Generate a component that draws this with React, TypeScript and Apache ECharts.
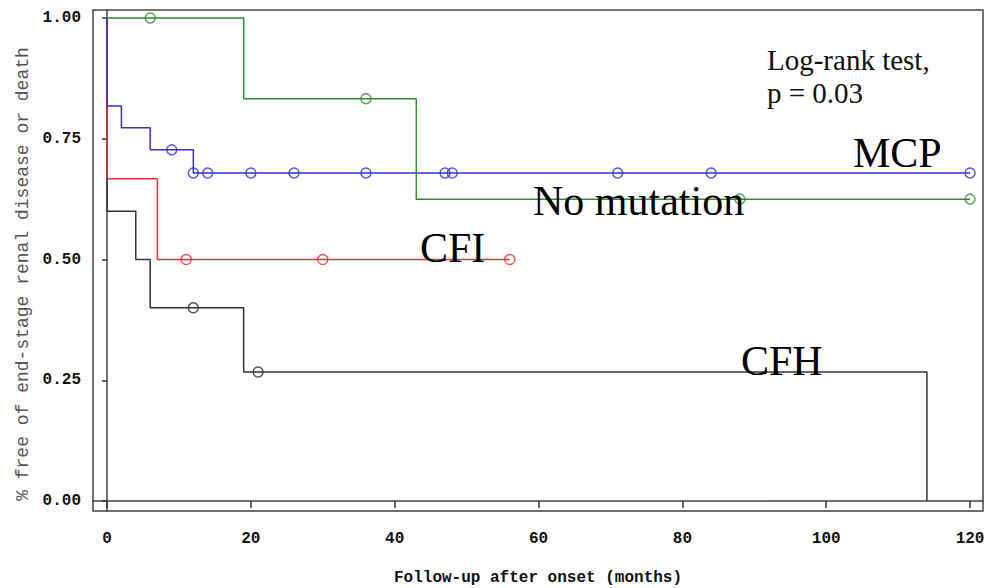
import React, { useEffect, useRef } from "react";
import * as echarts from "echarts";

const xTicks = [0, 20, 40, 60, 80, 100, 120];
const yTicks = [0, 0.25, 0.5, 0.75, 1];

// Kaplan-Meier steps (time in months, survival)
const noMutTimes = [0, 19, 43, 120];
const noMutSurv = [1, 0.833, 0.625, 0.625];
const mcpTimes = [0, 0, 2, 6, 12, 120];
const mcpSurv = [1, 0.818, 0.773, 0.727, 0.679, 0.679];
const cfiTimes = [0, 0, 7, 56];
const cfiSurv = [1, 0.667, 0.5, 0.5];
const cfhTimes = [0, 0, 4, 6, 19, 114];
const cfhSurv = [1, 0.6, 0.5, 0.4, 0.267, 0];

// Censored observations
const noMutCensT = [6, 36, 88, 120];
const noMutCensS = [1, 0.833, 0.625, 0.625];
const mcpCensT = [9, 12, 14, 20, 26, 36, 47, 48, 71, 84, 120];
const mcpCensS = [0.727, 0.679, 0.679, 0.679, 0.679, 0.679, 0.679, 0.679, 0.679, 0.679, 0.679];
const cfiCensT = [11, 30, 56];
const cfiCensS = [0.5, 0.5, 0.5];
const cfhCensT = [12, 21];
const cfhCensS = [0.4, 0.267];

// axis extents (frame slightly wider than the tick range)
const xMin = -1.95;
const xMax = 121.8;
const yMin = -0.0207;
const yMax = 1.0166;

const zip = (a: number[], b: number[]) => a.map((v, i) => [v, b[i]]);

const C_GREEN = "#2f8f2f";
const C_BLUE = "#3333cc";
const C_RED = "#e53535";
const C_BLACK = "#333333";

export default function App() {
  const ref = useRef<HTMLDivElement>(null);
  useEffect(() => {
    if (!ref.current) return;
    const chart = echarts.init(ref.current, null, { renderer: "svg" });
    const lineSeries = (name: string, t: number[], s: number[], color: string) => ({
      name,
      type: "line",
      step: "end",
      data: zip(t, s),
      showSymbol: false,
      symbol: "none",
      lineStyle: { color, width: 1.5 },
      silent: true,
    });
    const censSeries = (name: string, t: number[], s: number[], color: string) => ({
      name: name + " censored",
      type: "scatter",
      data: zip(t, s),
      symbol: "circle",
      symbolSize: 10,
      itemStyle: { color: "rgba(0,0,0,0)", borderColor: color, borderWidth: 1.5 },
      z: 3,
    });
    const mono = "Liberation Mono";
    const serif = "Liberation Serif";
    chart.setOption({
      animation: false,
      backgroundColor: "#ffffff",
      grid: {
        left: 93,
        right: 4,
        top: 10,
        bottom: 77,
        outerBoundsMode: "none",
        containLabel: false,
        show: true,
        borderColor: "#444",
        borderWidth: 1.5,
        backgroundColor: "transparent",
      },
      xAxis: {
        type: "value",
        min: xMin,
        max: xMax,
        axisLine: { show: true, lineStyle: { color: "#444", width: 1.5 } },
        axisTick: { show: true, length: 7, customValues: xTicks, lineStyle: { color: "#333", width: 1.5 } },
        axisLabel: {
          margin: 20,
          customValues: xTicks,
          color: "#111",
          fontFamily: mono,
          fontWeight: "bold",
          fontSize: 16,
        },
        splitLine: { show: false },
        name: "Follow-up after onset (months)",
        nameLocation: "middle",
        nameGap: 59,
        nameTextStyle: { color: "#111", fontFamily: mono, fontWeight: "bold", fontSize: 16 },
      },
      yAxis: {
        type: "value",
        min: yMin,
        max: yMax,
        axisLine: { show: true, lineStyle: { color: "#444", width: 1.5 } },
        axisTick: { show: true, length: 5, customValues: yTicks, lineStyle: { color: "#333", width: 1.5 } },
        axisLabel: {
          margin: 12,
          customValues: yTicks,
          color: "#111",
          fontFamily: mono,
          fontWeight: "bold",
          fontSize: 16,
          formatter: (v: number) => v.toFixed(2),
        },
        splitLine: { show: false },
      },
      graphic: [
        {
          type: "text",
          x: 23,
          y: 274,
          rotation: Math.PI / 2,
          style: {
            text: "% free of end-stage renal disease or death",
            fontFamily: mono,
            fontSize: 18,
            fill: "#555",
            align: "center",
            verticalAlign: "middle",
          },
        },
        {
          type: "text",
          x: 767,
          y: 60,
          style: { text: "Log-rank test,", fontFamily: serif, fontSize: 29, fill: "#111", align: "left", verticalAlign: "middle" },
        },
        {
          type: "text",
          x: 767,
          y: 93,
          style: { text: "p = 0.03", fontFamily: serif, fontSize: 29, fill: "#111", align: "left", verticalAlign: "middle" },
        },
        {
          type: "text",
          x: 853,
          y: 153,
          style: { text: "MCP", fontFamily: serif, fontSize: 42, fill: "#000", align: "left", verticalAlign: "middle" },
          z: 10,
        },
        {
          type: "text",
          x: 533,
          y: 201,
          style: { text: "No mutation", fontFamily: serif, fontSize: 42, fill: "#000", align: "left", verticalAlign: "middle" },
          z: 10,
        },
        {
          type: "text",
          x: 420,
          y: 248,
          style: { text: "CFI", fontFamily: serif, fontSize: 42, fill: "#000", align: "left", verticalAlign: "middle" },
          z: 10,
        },
        {
          type: "text",
          x: 741,
          y: 361,
          style: { text: "CFH", fontFamily: serif, fontSize: 42, fill: "#000", align: "left", verticalAlign: "middle" },
          z: 10,
        },
      ],
      series: [
        lineSeries("CFH", cfhTimes, cfhSurv, C_BLACK),
        lineSeries("CFI", cfiTimes, cfiSurv, C_RED),
        lineSeries("MCP", mcpTimes, mcpSurv, C_BLUE),
        lineSeries("No mutation", noMutTimes, noMutSurv, C_GREEN),
        censSeries("CFH", cfhCensT, cfhCensS, C_BLACK),
        censSeries("CFI", cfiCensT, cfiCensS, C_RED),
        censSeries("MCP", mcpCensT, mcpCensS, C_BLUE),
        censSeries("No mutation", noMutCensT, noMutCensS, C_GREEN),
      ],
    });
    return () => chart.dispose();
  }, []);
  return (
    <div
      ref={ref}
      style={{ position: "fixed", left: 0, top: 0, width: 987, height: 588, background: "#fff" }}
    />
  );
}
